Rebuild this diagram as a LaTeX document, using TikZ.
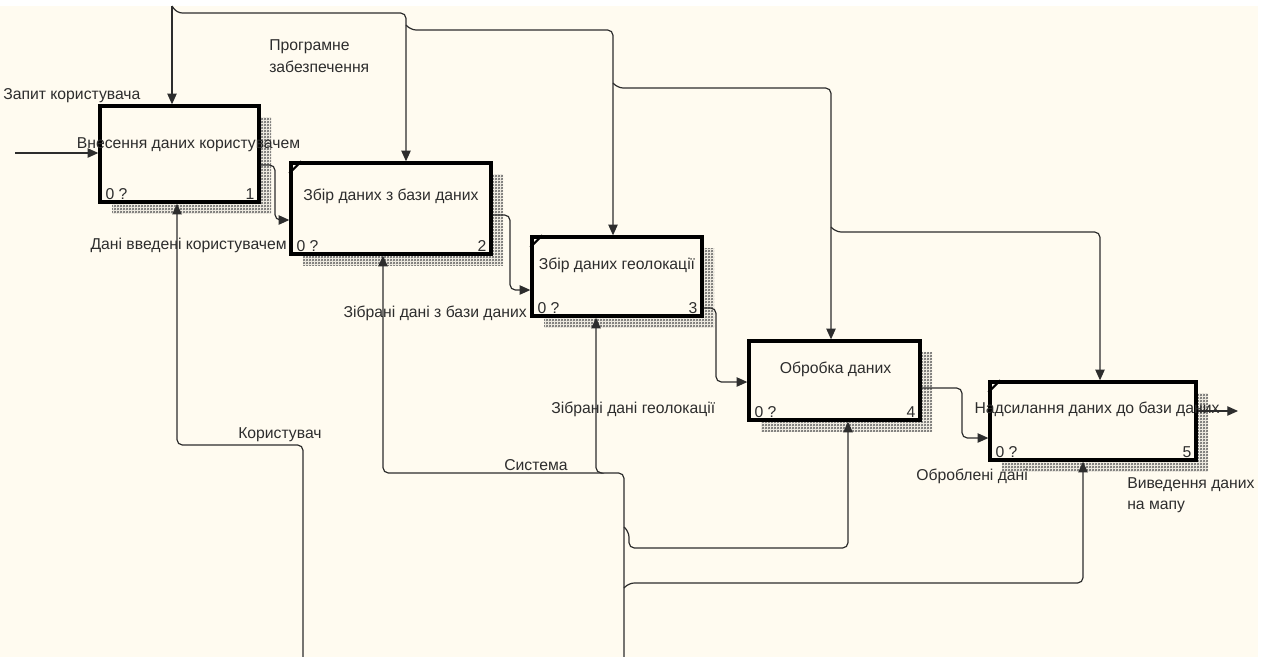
\documentclass[tikz,border=0pt]{standalone}
\usepackage{fontspec}
\setmainfont{Liberation Sans}
\usetikzlibrary{arrows.meta,calc,patterns.meta,shadows}

\definecolor{paper}{RGB}{255,251,240}
\definecolor{ink}{RGB}{45,45,45}

\tikzdeclarepattern{
  name=weave,
  bottom left={(0pt,0pt)},
  top right={(2.25pt,2.25pt)},
  tile size={(2.25pt,2.25pt)},
  code={
    \draw[line width=0.55pt] (0pt,0pt) -- (2.25pt,2.25pt);
    \draw[line width=0.55pt] (0pt,2.25pt) -- (2.25pt,0pt);
  }
}

\begin{document}
\begin{tikzpicture}[x=0.75pt, y=-0.75pt,
  >={Triangle[length=8pt,width=7pt]},
  func/.style={draw=black, line width=2.5pt, fill=paper, inner sep=0pt,
    general shadow={shadow xshift=9pt, shadow yshift=-8.25pt,
      pattern=weave, pattern color=black!60}},
  lbl/.style={font=\fontsize{11.8}{16}\selectfont, text=ink, inner sep=0pt},
  conn/.style={->, line width=0.9pt, draw=ink, rounded corners=4pt}]
  \useasboundingbox (0,0) rectangle (1268,657);
  \fill[paper] (0,6) rectangle (1258,657);

  \node[func, minimum width=119.25pt, minimum height=72pt] (b1) at (179.5,154) {};
  \node[func, minimum width=150pt, minimum height=68.25pt] (b2) at (391,208.5) {};
  \node[func, minimum width=127.5pt, minimum height=59.25pt] (b3) at (617,276.5) {};
  \node[func, minimum width=128.25pt, minimum height=59.25pt] (b4) at (834.5,380.5) {};
  \node[func, minimum width=154.5pt, minimum height=58.5pt] (b5) at (1093,421) {};

  \node[lbl] (t1) at ($(b1.north)+(9,40)$) {Внесення даних користувачем};
  \node[lbl] (t2) at ($(b2.north)+(0,35)$) {Збір даних з бази даних};
  \node[lbl] (t3) at ($(b3.north)+(0,30)$) {Збір даних геолокації};
  \node[lbl] (t4) at ($(b4.north)+(1,30)$) {Обробка даних};
  \node[lbl] (t5) at ($(b5.north)+(4,29)$) {Надсилання даних до бази даних};

  \foreach \i in {1,...,5} {
    \node[lbl, anchor=base west] (z\i) at ($(b\i.south west)+(7,-4)$) {0 ?};
    \node[lbl, anchor=base east] (n\i) at ($(b\i.south east)+(-6,-4)$) {\i};
  }
  \foreach \i in {2,3,5}
    \draw[line width=1.6pt] ($(b\i.north west)+(0,12)$) -- ($(b\i.north west)+(12,0)$);

  \coordinate (sw) at (172,6);
  \coordinate (inp) at (15,153);
  \coordinate (usr) at (303,657);
  \coordinate (sys) at (624,657);
  \coordinate (out) at (1238,411);

  % controls
  \draw[conn] (sw) -- (sw |- b1.north);
  \draw[conn] (sw) -- (177,13) -- (406,13) -- (406,0 |- b2.north);
  \draw[conn] (406,25) -- (411,30) -- (613,30) -- (613,0 |- b3.north);
  \draw[conn] (613,83) -- (618,88) -- (831,88) -- (831,0 |- b4.north);
  \draw[conn] (831,227) -- (836,232) -- (1100,232) -- (1100,0 |- b5.north);

  % inputs and outputs
  \draw[conn] (inp) -- (inp -| b1.west);
  \draw[conn] (b1.east |- 0,165) -- (275,165) -- (275,220) -- (b2.west |- 0,220);
  \draw[conn] (b2.east |- 0,215) -- (510,215) -- (510,290) -- (b3.west |- 0,290);
  \draw[conn] (b3.east |- 0,308) -- (716,308) -- (716,382) -- (b4.west |- 0,382);
  \draw[conn] (b4.east |- 0,388) -- (962,388) -- (962,438) -- (b5.west |- 0,438);
  \draw[conn] (b5.east |- out) -- (out);

  % mechanisms
  \draw[conn] (usr) -- (303,445) -- (177,445) -- (177,0 |- b1.south);
  \draw[conn] (sys) -- (624,473) -- (383,473) -- (383,0 |- b2.south);
  \draw[conn] (601,473) -- (596,473) -- (596,0 |- b3.south);
  \draw[conn] (624,527) -- (629,532) -- (629,548) -- (848,548) -- (848,0 |- b4.south);
  \draw[conn] (624,588) -- (629,583) -- (1083,583) -- (1083,0 |- b5.south);

  \node[lbl, anchor=west] (l1) at (3,96) {Запит користувача};
  \node[lbl, anchor=west, align=left] (l2) at (269,56) {Програмне\\забезпечення};
  \node[lbl, anchor=east] (l3) at (287,245) {Дані введені користувачем};
  \node[lbl, anchor=east] (l4) at (527,313) {Зібрані дані з бази даних};
  \node[lbl, anchor=west] (l5) at (551,409) {Зібрані дані геолокації};
  \node[lbl, anchor=west] (l6) at (916,476) {Оброблені дані};
  \node[lbl, anchor=west, align=left] (l7) at (1127,495) {Виведення даних\\на мапу};
  \node[lbl, anchor=west] (l8) at (238,435) {Користувач};
  \node[lbl, anchor=west] (l9) at (504,465) {Система};
\end{tikzpicture}
\end{document}
